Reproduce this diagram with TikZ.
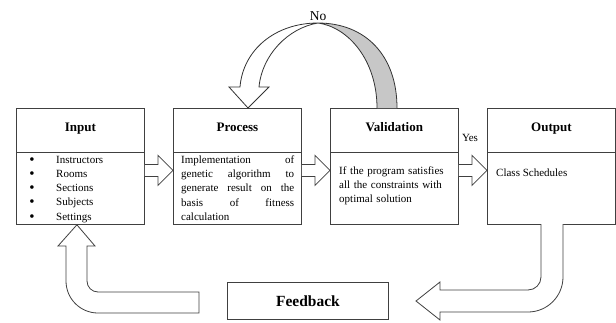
\documentclass[tikz,border=0pt]{standalone}
\usepackage{fontspec}
\setmainfont{Liberation Serif}
\usetikzlibrary{calc}
\begin{document}
\begin{tikzpicture}[x=1pt,y=-1pt,
  box/.style={draw=black!75, line width=0.8pt, rectangle, inner sep=0pt, anchor=north west, minimum width=128pt, minimum height=116pt},
  ttl/.style={font=\fontsize{13}{15}\selectfont\bfseries, anchor=base, inner sep=0pt},
  txt/.style={font=\fontsize{11}{14.3}\selectfont, inner sep=0pt},
  bul/.style={font=\fontsize{15}{15}\selectfont, inner sep=0pt, anchor=base},
  ln/.style={draw=black!75, line width=0.8pt},
  barrow/.style={draw=black!75, line width=0.8pt, fill=white, line join=miter},
]
\useasboundingbox (0,0) rectangle (616,322);

% boxes
\node[box] (in) at (16,108) {};
\node[box] (pr) at (173,108) {};
\node[box] (va) at (330,108) {};
\node[box] (ou) at (487,108) {};
\foreach \b in {in,pr,va,ou}{
  \draw[ln] ($(\b.north west)+(0,44)$) -- ($(\b.north east)+(0,44)$);
}

% titles
\node[ttl] (tin) at ($(in.north)+(0,23)$) {Input};
\node[ttl] (tpr) at ($(pr.north)+(0,23)$) {Process};
\node[ttl] (tva) at ($(va.north)+(0,23)$) {Validation};
\node[ttl] (tou) at ($(ou.north)+(0,23)$) {Output};

% input items
\foreach \t [count=\i from 0] in {Instructors,Rooms,Sections,Subjects,Settings}{
  \node[bul] (bu\i) at (32,{164+14.3*\i}) {•};
  \node[txt, anchor=base west] (it\i) at (56,{163+14.3*\i}) {\t};
}

% process text
\node[txt, anchor=north west, text width=113pt, align=justify] (prt) at (181,153)
  {\strut Implementation of\linebreak genetic algorithm to\linebreak generate result on the\linebreak basis of fitness\linebreak calculation};

% validation text
\node[txt, font=\fontsize{11}{14}\selectfont, anchor=north west, text width=118pt, align=left] (vat) at (339,164)
  {\strut If the program satisfies\\ all the constraints with\\ optimal solution};

% output text
\node[txt, anchor=base west] (out) at (496,176) {Class Schedules};

% straight block arrows
\draw[barrow] ($(in.east)+(0,-2)$) -- ($(pr.west)+(-15,-2)$) -- ($(pr.west)+(-15,-11)$) -- ($(pr.west)+(0,4)$) -- ($(pr.west)+(-15,19)$) -- ($(pr.west)+(-15,10)$) -- ($(in.east)+(0,10)$);
\draw[barrow] ($(pr.east)+(0,-2)$) -- ($(va.west)+(-15,-2)$) -- ($(va.west)+(-15,-11)$) -- ($(va.west)+(0,4)$) -- ($(va.west)+(-15,19)$) -- ($(va.west)+(-15,10)$) -- ($(pr.east)+(0,10)$);
\draw[barrow] ($(va.east)+(0,-2)$) -- ($(ou.west)+(-15,-2)$) -- ($(ou.west)+(-15,-11)$) -- ($(ou.west)+(0,4)$) -- ($(ou.west)+(-15,19)$) -- ($(ou.west)+(-15,10)$) -- ($(va.east)+(0,10)$);

\node[font=\fontsize{11}{13}\selectfont, anchor=base, inner sep=0pt] (yes) at (470,141.5) {Yes};

% curved "No" arrow
\filldraw[draw=black!80, fill=black!22, line width=0.8pt] (397,108) .. controls (397,55) and (365,23) .. (318,23) .. controls (348,27) and (377,60) .. (377,108);
\filldraw[draw=black!80, fill=white, line width=0.8pt, line join=miter] (318,23) .. controls (275,23) and (243,50) .. (240,87) -- (229,87) -- (248,108) -- (269,87) -- (259,87) .. controls (262,55) and (288,28) .. (318,23);
\node[font=\fontsize{13.5}{16}\selectfont, anchor=base, inner sep=0pt] (no) at (318,20.5) {No};

% feedback box
\node[draw=black!75, line width=0.8pt, minimum width=161pt, minimum height=37pt, anchor=north west, inner sep=0pt, font=\fontsize{15.5}{18}\selectfont\bfseries] (fb) at (227,282) {Feedback};

% output -> feedback
\coordinate (fbtip) at (416,301);
\draw[barrow] (541,224) -- (541,277) .. controls (541,284.2) and (535.2,290) .. (528,290) -- (440,290) -- (440,282) -- (fbtip) -- (440,320) -- (440,312) -- (528,312) .. controls (547.3,312) and (563,296.3) .. (563,277) -- (563,224);

% feedback -> input
\coordinate (fbtail) at (199,302);
\draw[barrow] (199,313) -- (98,313) .. controls (80.3,313) and (66,298.7) .. (66,281) -- (66,246) -- (58,246) -- ($(in.south)+(-3.5,0)$) -- (95,246) -- (87,246) -- (87,281) .. controls (87,287.1) and (91.9,292) .. (98,292) -- (199,292) -- cycle;
\end{tikzpicture}
\end{document}
